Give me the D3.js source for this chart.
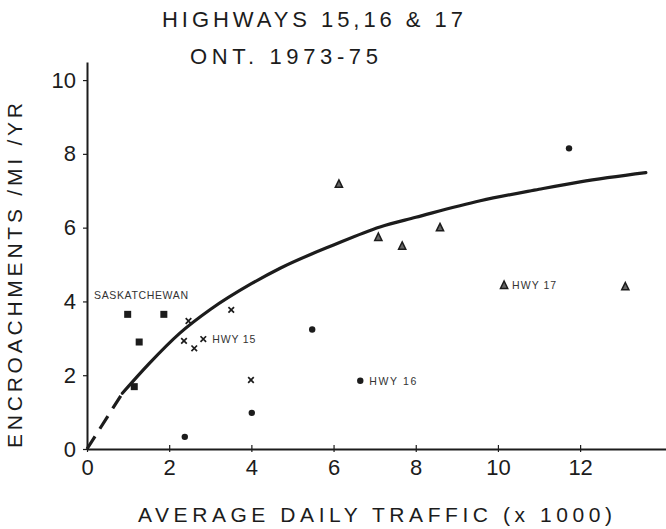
<!DOCTYPE html>
<html>
<head>
<meta charset="utf-8">
<script src="https://cdn.jsdelivr.net/npm/d3@7/dist/d3.min.js"></script>
<style>
  html, body { margin: 0; padding: 0; background: #fff; }
  svg { display: block; font-family: "Liberation Sans", Arial, Helvetica, sans-serif; }
</style>
</head>
<body>
<svg id="chart" width="666" height="529"></svg>
<script>
// Saskatchewan reference sites (squares)
const saskX = [0.99, 1.87, 1.27, 1.15];
const saskY = [3.65, 3.65, 2.90, 1.69];

// Highway 15 (x marks)
const hwy15X = [2.47, 3.51, 2.36, 2.61, 2.83, 3.99];
const hwy15Y = [3.47, 3.77, 2.93, 2.73, 2.98, 1.87];

// Highway 16 (filled circles)
const hwy16X = [2.38, 4.01, 5.48, 6.65, 11.73];
const hwy16Y = [0.33, 0.98, 3.24, 1.85, 8.15];

// Highway 17 (triangles)
const hwy17X = [6.13, 7.09, 7.67, 8.59, 10.15, 13.10];
const hwy17Y = [7.18, 5.74, 5.50, 6.00, 4.44, 4.40];

// Fitted relationship: dashed extrapolation to the origin, then solid
const fitDashX = [0, 0.86];
const fitDashY = [0, 1.51];
const fitX = [0.86, 1.5, 2.26, 3, 4, 4.7, 6, 7.13, 8, 9.57, 11, 12, 13.6];
const fitY = [1.51, 2.30, 3.14, 3.78, 4.48, 4.90, 5.53, 6.02, 6.28, 6.73, 7.04, 7.24, 7.49];

const xTicks = [0, 2, 4, 6, 8, 10, 12];
const yTicks = [0, 2, 4, 6, 8, 10];

const titleLines = ["HIGHWAYS 15,16 & 17", "ONT. 1973-75"];
const xLabel = "AVERAGE DAILY TRAFFIC (x 1000)";
const yLabel = "ENCROACHMENTS /MI /YR";

const ink = "#1c1c1c";
const svg = d3.select("#chart");

const x = d3.scaleLinear().domain([0, 14.09]).range([87, 666]);
const y = d3.scaleLinear().domain([0, 10.49]).range([449, 62]);

// Axes
const xAxis = svg.append("g")
  .attr("transform", `translate(0,${y(0)})`)
  .call(d3.axisBottom(x).tickValues(xTicks).tickSize(3).tickSizeOuter(0).tickPadding(9));
xAxis.select(".domain").attr("stroke", ink).attr("stroke-width", 2);
xAxis.selectAll(".tick line").attr("stroke", ink).attr("stroke-width", 1.2).attr("y1", -4).attr("y2", 3);
xAxis.selectAll(".tick text")
  .attr("fill", ink).attr("font-size", 22).attr("font-family", "Liberation Sans, Arial, sans-serif")
  .attr("dy", "0.62em");

const yAxis = svg.append("g")
  .attr("transform", `translate(${x(0)},0)`)
  .call(d3.axisLeft(y).tickValues(yTicks).tickSize(4).tickSizeOuter(0).tickPadding(7));
yAxis.select(".domain").attr("stroke", ink).attr("stroke-width", 2);
yAxis.selectAll(".tick line").attr("stroke", ink).attr("stroke-width", 1.2);
yAxis.selectAll(".tick text")
  .attr("fill", ink).attr("font-size", 22).attr("font-family", "Liberation Sans, Arial, sans-serif");

// Fitted curve
const line = d3.line().x(d => x(d[0])).y(d => y(d[1])).curve(d3.curveMonotoneX);
svg.append("path")
  .datum(d3.zip(fitDashX, fitDashY))
  .attr("d", line)
  .attr("fill", "none").attr("stroke", ink).attr("stroke-width", 3.2)
  .attr("stroke-dasharray", "15,9");
svg.append("path")
  .datum(d3.zip(fitX, fitY))
  .attr("d", line)
  .attr("fill", "none").attr("stroke", ink).attr("stroke-width", 3.2)
  .attr("stroke-linecap", "round");

// Markers
svg.append("g").selectAll("rect")
  .data(d3.zip(saskX, saskY)).join("rect")
  .attr("x", d => x(d[0]) - 3.5).attr("y", d => y(d[1]) - 3.5)
  .attr("width", 7).attr("height", 7).attr("fill", ink);

svg.append("g").selectAll("path")
  .data(d3.zip(hwy15X, hwy15Y)).join("path")
  .attr("d", d => {
    const cx = x(d[0]), cy = y(d[1]), r = 2.8;
    return `M${cx - r},${cy - r}L${cx + r},${cy + r}M${cx + r},${cy - r}L${cx - r},${cy + r}`;
  })
  .attr("stroke", ink).attr("stroke-width", 1.7).attr("fill", "none");

svg.append("g").selectAll("circle")
  .data(d3.zip(hwy16X, hwy16Y)).join("circle")
  .attr("cx", d => x(d[0])).attr("cy", d => y(d[1])).attr("r", 3.2)
  .attr("fill", ink);

svg.append("g").selectAll("path")
  .data(d3.zip(hwy17X, hwy17Y)).join("path")
  .attr("d", d => {
    const cx = x(d[0]), cy = y(d[1]);
    return `M${cx},${cy - 4.2}L${cx + 3.6},${cy + 3.2}L${cx - 3.6},${cy + 3.2}Z`;
  })
  .attr("fill", "#666").attr("stroke", ink).attr("stroke-width", 1.5);

// Series labels
const small = (txt, px, py, len) => svg.append("text")
  .attr("x", px).attr("y", py).attr("fill", "#333")
  .attr("font-size", 10.5).attr("textLength", len).attr("lengthAdjust", "spacing")
  .text(txt);
small("SASKATCHEWAN", 94, 299, 94);
small("HWY 15", x(hwy15X[4]) + 9, y(hwy15Y[4]) + 4, 43);
small("HWY 16", x(hwy16X[3]) + 9, y(hwy16Y[3]) + 4, 47);
small("HWY 17", x(hwy17X[4]) + 8, y(hwy17Y[4]) + 4, 44);

// Titles
svg.append("text").attr("x", 162).attr("y", 27).attr("fill", ink)
  .attr("font-size", 22).attr("textLength", 301).attr("lengthAdjust", "spacing")
  .text(titleLines[0]);
svg.append("text").attr("x", 190).attr("y", 64).attr("fill", ink)
  .attr("font-size", 22).attr("textLength", 188).attr("lengthAdjust", "spacing")
  .text(titleLines[1]);

// Axis titles
svg.append("text").attr("x", 138).attr("y", 522).attr("fill", ink)
  .attr("font-size", 21).attr("textLength", 474).attr("lengthAdjust", "spacing")
  .text(xLabel);
svg.append("text")
  .attr("transform", "translate(22,448) rotate(-90)")
  .attr("fill", ink)
  .attr("font-size", 21).attr("textLength", 345).attr("lengthAdjust", "spacing")
  .text(yLabel);
</script>
</body>
</html>
